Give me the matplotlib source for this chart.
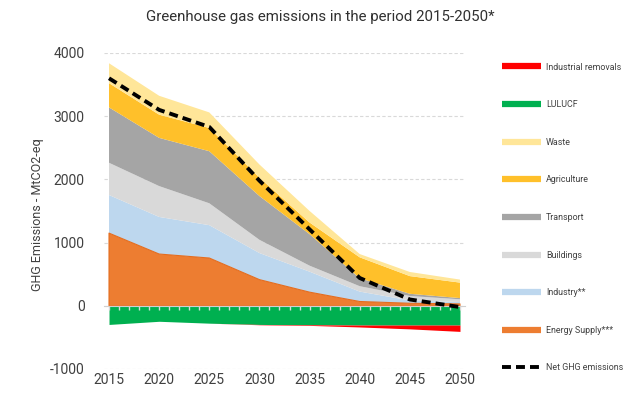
import matplotlib
matplotlib.use("Agg")
import matplotlib.pyplot as plt
from matplotlib.lines import Line2D
import numpy as np

plt.rcParams['font.family'] = ['Roboto', 'DejaVu Sans']
plt.rcParams['axes.unicode_minus'] = False

years = [2015, 2020, 2025, 2030, 2035, 2040, 2045, 2050]
energy_supply = [1150, 819, 756, 414, 216, 68, 40, 30]
industry = [603, 587, 520, 421, 324, 157, 45, 30]
buildings = [510, 488, 346, 209, 95, 85, 70, 43]
transport = [876, 763, 824, 693, 499, 126, 35, 19]
agriculture = [384, 367, 368, 290, 184, 331, 280, 245]
waste = [315, 299, 246, 209, 183, 52, 65, 48]
lulucf = [295, 245, 275, 295, 300, 305, 305, 305]
industrial_removals = [0, 0, 0, 5, 10, 30, 60, 100]
net_ghg = [3600, 3100, 2830, 1980, 1210, 440, 100, -20]

c_energy = '#ed7d31'
c_industry = '#bdd7ee'
c_buildings = '#d9d9d9'
c_transport = '#a5a5a5'
c_agri = '#ffc02a'
c_waste = '#ffe699'
c_lulucf = '#00b050'
c_removals = '#ff0000'
txt = '#404040'

fig = plt.figure(figsize=(6.4, 4.03), dpi=100)
ax = fig.add_axes([104/640, 1-369/403, (465-104)/640, (369-53)/403])

ax.stackplot(years, energy_supply, industry, buildings, transport, agriculture, waste,
             colors=[c_energy, c_industry, c_buildings, c_transport, c_agri, c_waste],
             linewidth=0)
ax.fill_between(years, 0, energy_supply, facecolor='none', edgecolor='#e46c1e', linewidth=0.8)
neg1 = -np.array(lulucf)
neg2 = neg1 - np.array(industrial_removals)
ax.fill_between(years, 0, neg1, color=c_lulucf, linewidth=0)
ax.fill_between(years, neg1, neg2, color=c_removals, linewidth=0)
ax.plot(years, net_ghg, color='black', lw=2.8, dashes=(2.3, 1.3), zorder=6)

ax.set_xlim(2014.5, 2050.5)
ax.set_ylim(-1000, 4000)
ax.set_yticks([-1000, 0, 1000, 2000, 3000, 4000])
ax.tick_params(axis='y', length=0, labelsize=10, labelcolor=txt, pad=14)
ax.yaxis.grid(True, color='#d9d9d9', linestyle=(0, (3, 2)), linewidth=0.8)
ax.set_axisbelow(True)
for s in ['top', 'right', 'left', 'bottom']:
    ax.spines[s].set_visible(False)
ax.set_xticks(years)
ax.tick_params(axis='x', length=0, labelsize=10, labelcolor=txt, pad=3)

# zero axis line with yearly ticks
zero_ax = ax.secondary_xaxis(0.2)
zero_ax.set_xticks(np.arange(2015, 2051, 1))
zero_ax.xaxis.set_ticks_position('bottom')
zero_ax.tick_params(length=3, color='#d8d8d8', direction='out', labelbottom=False,
                    labeltop=False, width=1)
for s in zero_ax.spines.values():
    s.set_color('#d0d0d0')
zero_ax.set_zorder(5)

ax.set_ylabel('GHG Emissions - MtCO2-eq', fontsize=9, color=txt)
ax.yaxis.set_label_coords((44-104)/361, 0.49)
fig.text(0.5, 1-17/403, 'Greenhouse gas emissions in the period 2015-2050*',
         ha='center', va='center', fontsize=10.8, color='#303030')

lw_h = 4.5
handles = [
    Line2D([], [], color=c_removals, lw=lw_h, solid_capstyle='butt'),
    Line2D([], [], color=c_lulucf, lw=lw_h, solid_capstyle='butt'),
    Line2D([], [], color=c_waste, lw=lw_h, solid_capstyle='butt'),
    Line2D([], [], color=c_agri, lw=lw_h, solid_capstyle='butt'),
    Line2D([], [], color=c_transport, lw=lw_h, solid_capstyle='butt'),
    Line2D([], [], color=c_buildings, lw=lw_h, solid_capstyle='butt'),
    Line2D([], [], color=c_industry, lw=lw_h, solid_capstyle='butt'),
    Line2D([], [], color=c_energy, lw=lw_h, solid_capstyle='butt'),
    Line2D([], [], color='black', lw=2.8, dashes=(2.3, 1.3)),
]
labels = ['Industrial removals', 'LULUCF', 'Waste', 'Agriculture', 'Transport',
          'Buildings', 'Industry**', 'Energy Supply***', 'Net GHG emissions']
leg = fig.legend(handles, labels, loc='upper left', bbox_to_anchor=(502/640, 1-62.5/403),
                 frameon=False, fontsize=6.4, handlelength=4.4, handletextpad=0.56,
                 labelspacing=3.22, borderpad=0, borderaxespad=0)
for t in leg.get_texts():
    t.set_color(txt)

fig.savefig('out.png', dpi=100)
